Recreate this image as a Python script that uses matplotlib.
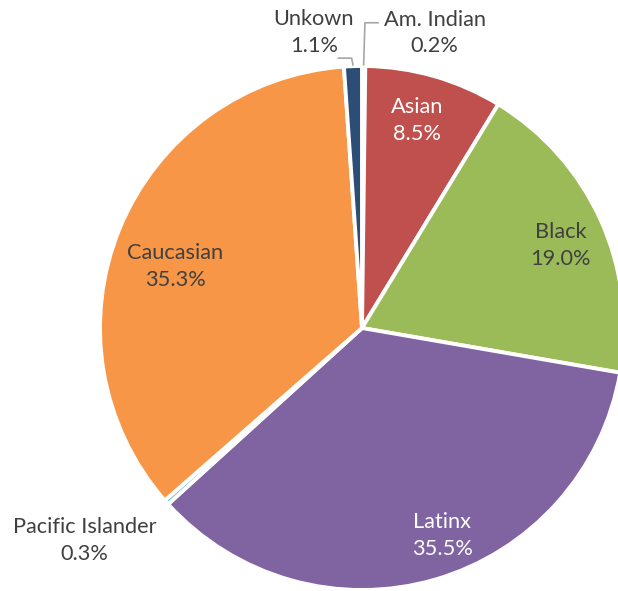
import numpy as np
import matplotlib.pyplot as plt

groups = ['Am. Indian', 'Asian', 'Black', 'Latinx', 'Pacific Islander', 'Caucasian', 'Unkown']
shares = [0.2, 8.5, 19.0, 35.5, 0.3, 35.3, 1.1]
colors = ['#4F81BD', '#C0504D', '#9BBB59', '#8064A2', '#4BACC6', '#F79646', '#2C4D75']

# label placement: (radius, angle offset in deg, text colour)
label_style = {
    'Am. Indian':       (1.16, -13.5, '#404040'),
    'Asian':            (0.82, 1.2, 'white'),
    'Black':            (0.82, -1.8, '#404040'),
    'Latinx':           (0.85, 4.9, 'white'),
    'Pacific Islander': (1.333, -4.3, '#404040'),
    'Caucasian':        (0.75, 4.1, '#404040'),
    'Unkown':           (1.142, 7.3, '#404040'),
}

plt.rcParams['font.family'] = ['Lato', 'DejaVu Sans']

fig = plt.figure(figsize=(6.18, 5.91), dpi=100)
ax = fig.add_axes([100 / 618, 1 / 591, 524 / 618, 524 / 591])

wedges, _ = ax.pie(shares, colors=colors, startangle=90, counterclock=False,
                   wedgeprops=dict(edgecolor='white', linewidth=2.8))
ax.set_xlim(-1, 1)
ax.set_ylim(-1, 1)
ax.set_aspect('equal')
ax.axis('off')

for w, name, val in zip(wedges, groups, shares):
    mid = np.deg2rad((w.theta1 + w.theta2) / 2)
    r, off, col = label_style[name]
    ang = mid + np.deg2rad(off)
    x, y = r * np.cos(ang), r * np.sin(ang)
    ax.text(x, y, f'{name}\n{val:.1f}%', ha='center', va='center',
            fontsize=15.7, color=col, linespacing=1.42, clip_on=False)

# leader lines for the two thin wedges at the top
for w, side in ((wedges[0], 1), (wedges[6], -1)):
    mid = np.deg2rad((w.theta1 + w.theta2) / 2)
    x0, y0 = np.cos(mid), np.sin(mid)
    ytop = 1.165 if side > 0 else 1.03
    xs = [x0, x0 + 0.005 * side, x0 + 0.055 * side]
    ys = [y0 + 0.005, ytop, ytop]
    ax.plot(xs, ys, color='#A6A6A6', lw=1.2, clip_on=False)

fig.savefig('out.png', dpi=100)
